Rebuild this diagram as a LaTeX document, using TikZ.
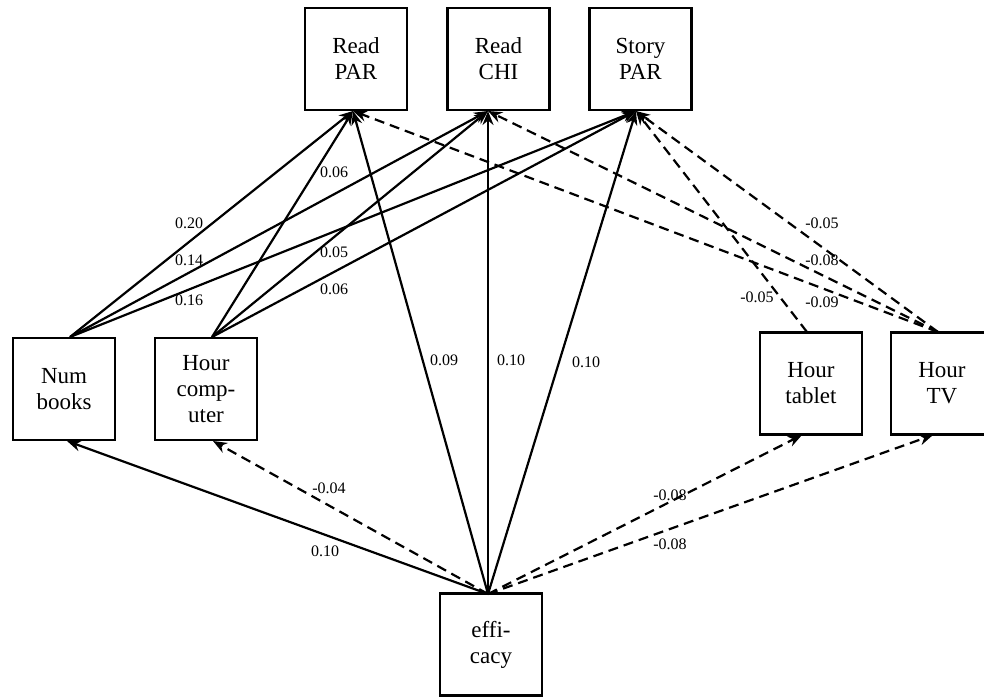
\documentclass[tikz,border=0pt]{standalone}
\usepackage{fontspec}
\setmainfont{Liberation Serif}
\usetikzlibrary{arrows.meta}
\begin{document}
\begin{tikzpicture}[x=1pt,y=-1pt,
  box/.style={draw,line width=2.6pt,fill=white,minimum width=102pt,minimum height=102pt,align=center,font=\fontsize{23}{26}\selectfont,inner sep=0pt},
  lab/.style={font=\fontsize{16}{16}\selectfont,inner sep=0pt},
  posarr/.style={line width=2.2pt,-{Stealth[length=14pt,width=11pt]}},
  negarr/.style={posarr,dash pattern=on 10pt off 6pt}]
\useasboundingbox (0,0) rectangle (984,697);
% nodes
\node[box] (rp) at (356,59) {Read\\PAR};
\node[box] (rc) at (498.5,59) {Read\\CHI};
\node[box] (sp) at (640.5,59) {Story\\PAR};
\node[box] (nb) at (64,389) {Num\\books};
\node[box] (hc) at (206,389) {Hour\\comp-\\uter};
\node[box] (ht) at (811,383.5) {Hour\\tablet};
\node[box] (tv) at (942,383.5) {Hour\\TV};
\node[box] (ef) at (491,644.5) {effi-\\cacy};
% anchor points
\coordinate (rpB) at (353,111);
\coordinate (rcB) at (488,111);
\coordinate (spB) at (636,111);
\coordinate (nbT) at (70,337);
\coordinate (nbB) at (67,441);
\coordinate (hcT) at (212,337);
\coordinate (hcB) at (213,441);
\coordinate (htT) at (807,332);
\coordinate (htB) at (802,435);
\coordinate (tvT) at (938,332);
\coordinate (tvB) at (933,435);
\coordinate (efT) at (488,594);
% connectors
\draw[posarr] (nbT) -- (rpB);
\draw[posarr] (nbT) -- (rcB);
\draw[posarr] (nbT) -- (spB);
\draw[posarr] (hcT) -- (rpB);
\draw[posarr] (hcT) -- (rcB);
\draw[posarr] (hcT) -- (spB);
\draw[posarr] (efT) -- (rpB);
\draw[posarr] (efT) -- (rcB);
\draw[posarr] (efT) -- (spB);
\draw[negarr] (htT) -- (spB);
\draw[negarr] (tvT) -- (rpB);
\draw[negarr] (tvT) -- (rcB);
\draw[negarr] (tvT) -- (spB);
\draw[posarr] (efT) -- (nbB);
\draw[negarr] (efT) -- (hcB);
\draw[negarr] (efT) -- (htB);
\draw[negarr] (efT) -- (tvB);
% labels
\node[lab] (l1) at (189,223) {0.20};
\node[lab] (l2) at (189,260) {0.14};
\node[lab] (l3) at (189,300) {0.16};
\node[lab] (l4) at (334,172) {0.06};
\node[lab] (l5) at (334,252) {0.05};
\node[lab] (l6) at (334,289) {0.06};
\node[lab] (l7) at (444,360) {0.09};
\node[lab] (l8) at (511,360) {0.10};
\node[lab] (l9) at (586,362) {0.10};
\node[lab] (l10) at (822,223) {-0.05};
\node[lab] (l11) at (822,260) {-0.08};
\node[lab] (l12) at (822,302) {-0.09};
\node[lab] (l13) at (757,297) {-0.05};
\node[lab] (l14) at (329,488) {-0.04};
\node[lab] (l15) at (325,551) {0.10};
\node[lab] (l16) at (670,495) {-0.08};
\node[lab] (l17) at (670,544) {-0.08};
\end{tikzpicture}
\end{document}
